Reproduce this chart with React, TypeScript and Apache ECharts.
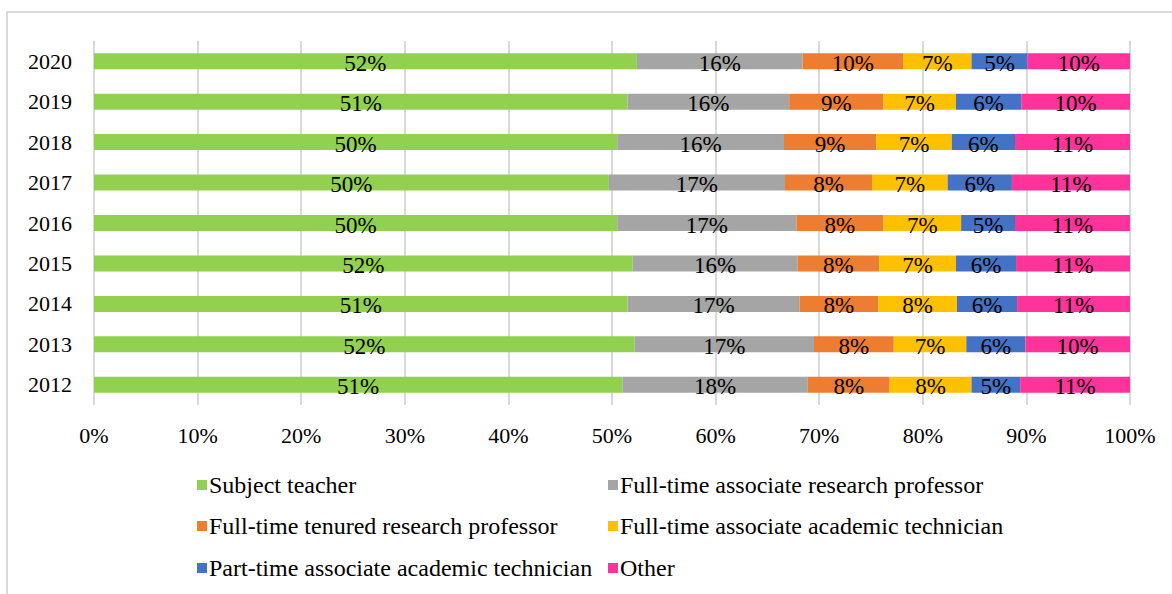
import React, { useEffect, useRef } from "react";
import * as echarts from "echarts";

const years = ["2012", "2013", "2014", "2015", "2016", "2017", "2018", "2019", "2020"];
const seriesNames = [
  "Subject teacher",
  "Full-time associate research professor",
  "Full-time tenured research professor",
  "Full-time associate academic technician",
  "Part-time associate academic technician",
  "Other",
];
const subjectTeacher = [51.0, 52.2, 51.5, 52.0, 50.5, 49.7, 50.5, 51.5, 52.4];
const assocResearch = [17.9, 17.3, 16.6, 15.9, 17.3, 17.0, 16.1, 15.6, 16.0];
const tenuredResearch = [7.9, 7.7, 7.6, 7.9, 8.4, 8.4, 8.9, 9.1, 9.7];
const assocTech = [7.9, 7.0, 7.6, 7.4, 7.5, 7.3, 7.3, 7.0, 6.6];
const partTimeTech = [4.7, 5.7, 5.8, 5.8, 5.2, 6.2, 6.1, 6.3, 5.4];
const other = [10.6, 10.1, 10.9, 11.0, 11.1, 11.4, 11.1, 10.5, 9.9];
const valueLabels = [
  ["51%", "52%", "51%", "52%", "50%", "50%", "50%", "51%", "52%"],
  ["18%", "17%", "17%", "16%", "17%", "17%", "16%", "16%", "16%"],
  ["8%", "8%", "8%", "8%", "8%", "8%", "9%", "9%", "10%"],
  ["8%", "7%", "8%", "7%", "7%", "7%", "7%", "7%", "7%"],
  ["5%", "6%", "6%", "6%", "5%", "6%", "6%", "6%", "5%"],
  ["11%", "10%", "11%", "11%", "11%", "11%", "11%", "10%", "10%"],
];
const colors = ["#92d050", "#a5a5a5", "#ed7d31", "#ffc000", "#4472c4", "#ff3399"];

const FONT = "'Liberation Serif', 'Times New Roman', serif";

export default function App() {
  const ref = useRef<HTMLDivElement>(null);
  useEffect(() => {
    if (!ref.current) return;
    const chart = echarts.init(ref.current, null, { renderer: "svg" });
    const allData = [subjectTeacher, assocResearch, tenuredResearch, assocTech, partTimeTech, other];
    const legendPos = [
      { left: 197, top: 473 },
      { left: 608, top: 473 },
      { left: 197, top: 514 },
      { left: 608, top: 514 },
      { left: 197, top: 556 },
      { left: 608, top: 556 },
    ];
    chart.setOption({
      animation: false,
      grid: { left: 94, right: 42, top: 41, bottom: 189 },
      graphic: [
        {
          type: "rect",
          shape: { x: 7, y: 12, width: 1300, height: 700 },
          style: { fill: "none", stroke: "#d9d9d9", lineWidth: 2 },
          silent: true,
        },
      ],
      legend: seriesNames.map((n, i) => ({
        data: [n],
        left: legendPos[i].left,
        top: legendPos[i].top,
        padding: 0,
        itemWidth: 10,
        itemHeight: 10,
        icon: "rect",
        selectedMode: false,
        textStyle: { fontFamily: FONT, fontSize: 24, color: "#000", lineHeight: 24, padding: [0, 0, 0, -3] },
      })),
      xAxis: {
        type: "value",
        min: 0,
        max: 100,
        interval: 10,
        axisLine: { show: false },
        axisTick: { show: false },
        splitLine: { show: true, lineStyle: { color: "#d9d9d9", width: 2 } },
        axisLabel: {
          formatter: "{value}%",
          fontFamily: FONT,
          fontSize: 22,
          color: "#000",
          margin: 19,
        },
      },
      yAxis: {
        type: "category",
        data: years,
        axisLine: { show: false },
        axisTick: { show: false },
        axisLabel: { fontFamily: FONT, fontSize: 22, color: "#000", margin: 22 },
      },
      series: seriesNames.map((n, i) => ({
        name: n,
        type: "bar",
        stack: "total",
        barWidth: 16,
        itemStyle: { color: colors[i] },
        label: {
          show: true,
          position: "inside",
          fontFamily: FONT,
          fontSize: 23,
          color: "#000",
          offset: [0, 2],
          formatter: (p: any) => valueLabels[i][p.dataIndex],
        },
        data: allData[i],
      })),
    });
    return () => chart.dispose();
  }, []);
  return (
    <div
      ref={ref}
      style={{ position: "fixed", left: 0, top: 0, width: 1172, height: 594, background: "#fff" }}
    />
  );
}
